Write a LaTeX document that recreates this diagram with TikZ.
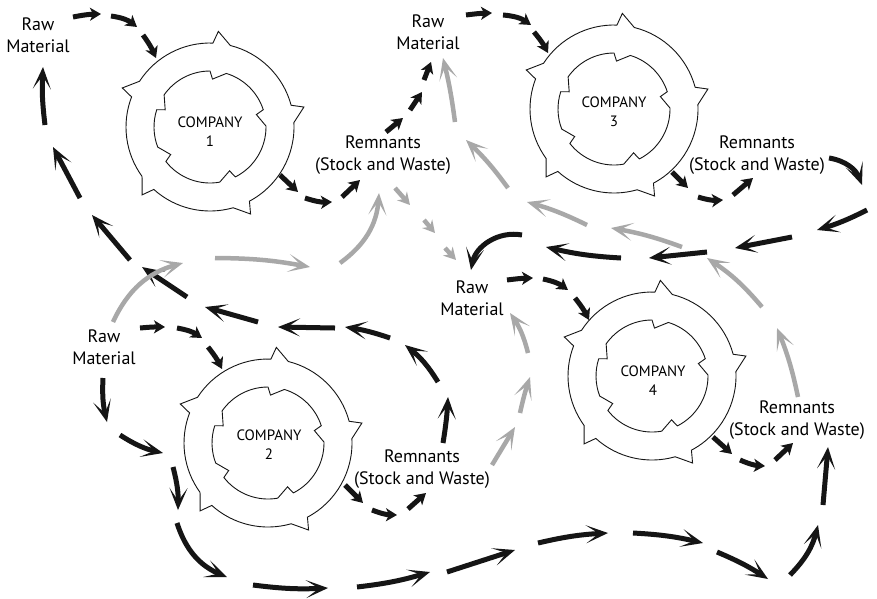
\documentclass[tikz,border=0pt]{standalone}
\usepackage{fontspec}
\setmainfont{PT Sans}
\usetikzlibrary{arrows.meta}
\definecolor{ink}{HTML}{151515}
\definecolor{flowgrey}{HTML}{A8A8A8}
\tikzset{
  gearline/.style={line width=0.9pt, draw=ink},
  lbl/.style={font=\fontsize{18}{22}\selectfont, align=center, inner sep=0pt},
  comp/.style={font=\fontsize{15}{19}\selectfont, align=center, inner sep=0pt},
  feedarrow/.style={line width=5pt, draw=ink, -{Stealth[length=11pt,width=13pt,inset=3pt]}},
  cyclearrow/.style={line width=5pt, draw=ink, -{Stealth[length=22pt,width=18pt,inset=13pt]}},
  reusearrow/.style={line width=4.5pt, draw=flowgrey, -{Stealth[length=22pt,width=18pt,inset=13pt]}},
  reusedash/.style={line width=4.5pt, draw=flowgrey, -{Stealth[length=12pt,width=13pt,inset=4pt]}},
}
% toothed ring of a company: outer ring with five saw teeth, inner ring with five notches
\newcommand\companyring[1]{%
  \begin{scope}[shift={#1}, y=1pt]
    \draw[gearline] (15:84) arc[start angle=15,end angle=76,radius=84] -- (85:96) -- (88:84)
      arc[start angle=88,end angle=147,radius=84] -- (156:96) -- (159:84)
      arc[start angle=159,end angle=216,radius=84] -- (225:96) -- (228:84)
      arc[start angle=228,end angle=286,radius=84] -- (295:96) -- (298:84)
      arc[start angle=298,end angle=363,radius=84] -- (12:96) -- cycle;
    \draw[gearline] (18:56) arc[start angle=18,end angle=73,radius=56] -- (87:48) -- (90:56)
      arc[start angle=90,end angle=145,radius=56] -- (159:48) -- (162:56)
      arc[start angle=162,end angle=201,radius=56] -- (215:48) -- (218:56)
      arc[start angle=218,end angle=280,radius=56] -- (294:48) -- (297:56)
      arc[start angle=297,end angle=361,radius=56] -- (15:48) -- cycle;
  \end{scope}}
\begin{document}
\begin{tikzpicture}[x=1pt, y=-1pt]
  \useasboundingbox (0,0) rectangle (877,598);
  \fill[white] (0,0) rectangle (877,598);

  % companies
  \companyring{(210,127)}
  \companyring{(268,443)}
  \companyring{(614,109)}
  \companyring{(652,376)}
  \node[comp] (c1) at (210,132) {COMPANY\\1};
  \node[comp] (c2) at (269,445) {COMPANY\\2};
  \node[comp] (c3) at (614,112) {COMPANY\\3};
  \node[comp] (c4) at (653,381) {COMPANY\\4};

  % raw material and remnant labels
  \node[lbl] (rawA) at (38,35) {Raw\\Material};
  \node[lbl] (rawB) at (428,32) {Raw\\Material};
  \node[lbl] (rawC) at (472,298) {Raw\\Material};
  \node[lbl] (rawD) at (104,347) {Raw\\Material};
  \node[lbl] (remA) at (383,155) {Remnants\\(Stock and Waste)};
  \node[lbl] (remB) at (757,155) {Remnants\\(Stock and Waste)};
  \node[lbl] (remC) at (422,469) {Remnants\\(Stock and Waste)};
  \node[lbl] (remD) at (797,420) {Remnants\\(Stock and Waste)};

  % inputs and outputs of each company
  \foreach \xa/\ya/\xb/\yb/\b in {
      73/17/101/14/5, 111/16/137/27/15, 143/35/156/58/6,
      280/175/298/192/0, 305/198/332/202/-10, 342/197/360/180/0,
      386/132/403/118/0, 410/110/422/92/0, 424/80/431/62/0,
      466/15/492/13/3, 503/15/531/25/15, 534/32/548/53/6,
      672/172/688/188/0, 698/197/723/200/-10, 733/195/753/178/0,
      507/280/533/278/3, 543/279/568/290/12, 575/298/589/320/6,
      713/437/732/454/0, 740/460/765/466/-10, 775/460/793/443/0,
      140/328/165/327/3, 177/328/202/338/12, 208/347/222/369/6,
      345/485/363/503/0, 372/510/397/515/-10, 408/509/426/493/0}
    \draw[feedarrow] (\xa,\ya) to[bend left=\b] (\xb,\yb);

  % long black flows between companies
  \foreach \xa/\ya/\xb/\yb/\b in {
      829/158/862/185/30, 867/210/817/230/5, 792/237/735/248/0,
      707/252/649/258/0, 621/258/546/247/5, 522/235/471/270/-45,
      443/443/448/397/-3, 438/382/405/345/-10, 390/338/345/327/-5,
      335/328/278/327/0, 258/322/205/307/0, 187/297/142/267/0,
      130/260/92/215/0, 80/198/53/147/0, 45/125/43/67/5,
      103/378/107/422/-8, 120/435/163/453/-10, 173/467/178/510/8,
      177/523/227/577/-25, 253/585/328/588/-5, 357/587/430/572/-5,
      447/572/515/550/0, 538/543/608/533/5, 633/533/703/543/5,
      717/552/768/579/5, 790/575/818/525/-15, 823/505/828/447/0}
    \draw[cyclearrow] (\xa,\ya) to[bend left=\b] (\xb,\yb);

  % grey reuse flows
  \foreach \xa/\ya/\xb/\yb/\b in {
      113/322/183/263/25, 215/258/310/267/5, 340/263/379/193/-25,
      492/465/515/427/0, 520/413/530/377/3, 528/353/510/313/-10,
      798/397/777/328/-5, 762/307/707/258/-8, 682/247/611/228/-5,
      587/225/527/202/-5, 508/188/466/140/-5, 455/122/443/58/-3}
    \draw[reusearrow] (\xa,\ya) to[bend left=\b] (\xb,\yb);
  \foreach \xa/\ya/\xb/\yb in {395/188/410/205, 424/220/435/233, 445/248/456/260}
    \draw[reusedash] (\xa,\ya) -- (\xb,\yb);
\end{tikzpicture}
\end{document}
